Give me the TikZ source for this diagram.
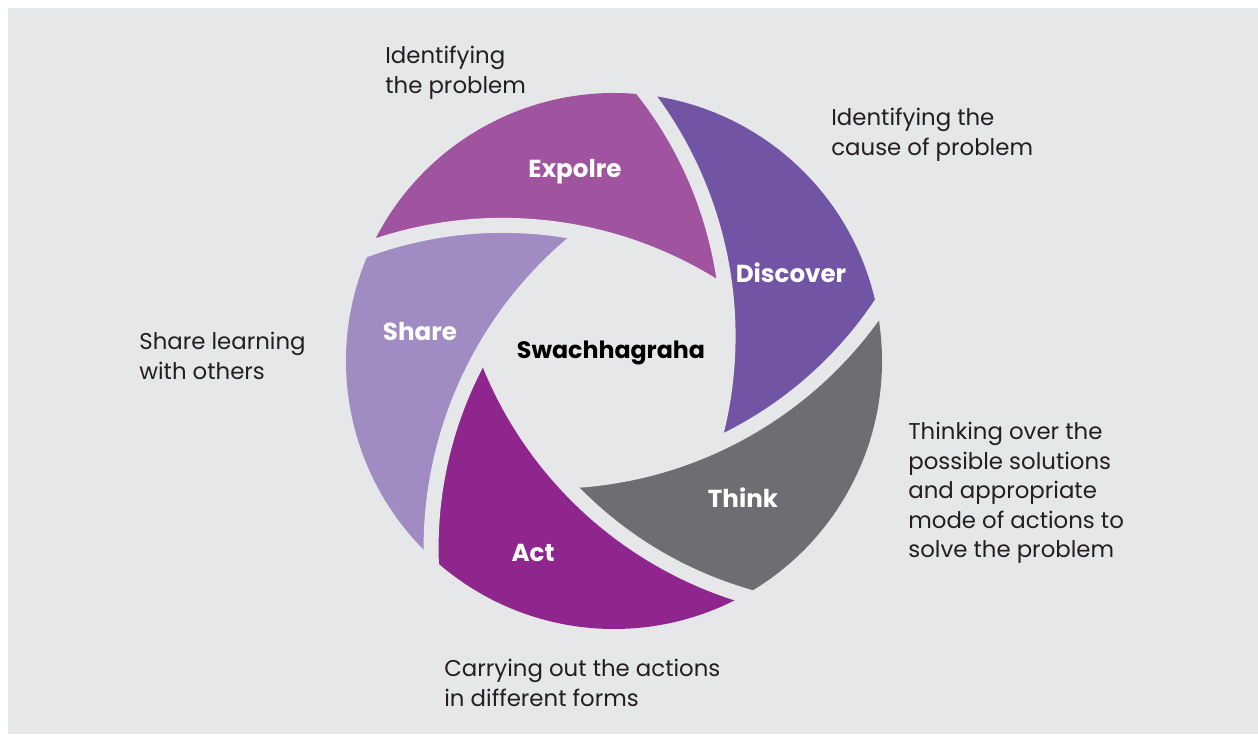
\documentclass[tikz,border=0pt]{standalone}
\usepackage{fontspec}
\setmainfont{Poppins}
\usepackage{tikz}
\usetikzlibrary{positioning}
\definecolor{pagebg}{RGB}{230,231,232}
\definecolor{explorecol}{RGB}{160,84,160}
\definecolor{discovercol}{RGB}{114,84,164}
\definecolor{thinkcol}{RGB}{109,110,114}
\definecolor{actcol}{RGB}{142,38,142}
\definecolor{sharecol}{RGB}{160,139,194}
\definecolor{notecolor}{RGB}{35,31,32}
\tikzset{
  blade/.pic={
    \fill[#1] (0:5.36) arc[start angle=0, end angle=-72, radius=5.36]
      arc[start angle=-117.7, end angle=-148.9, radius=7.96]
      arc[start angle=-99.1, end angle=-45.7, radius=7.96] -- cycle;
  },
  slit/.pic={
    \draw[draw=pagebg, line width=0.30cm] (92:5.70) ++(-42:7.96)
      arc[start angle=-42, end angle=-99.1, radius=7.96];
  },
  bladelabel/.style={
    text=white, inner sep=0pt, anchor=base,
    font=\fontsize{14}{16}\selectfont\bfseries
  },
  hublabel/.style={
    text=black, inner sep=0pt, anchor=base,
    font=\fontsize{13.5}{17}\selectfont\bfseries
  },
  notebox/.style={
    text=notecolor, inner sep=0pt, anchor=north west, align=left,
    font=\fontsize{13}{16.8}\selectfont
  }
}

\begin{document}
\begin{tikzpicture}

    % page and panel
    \useasboundingbox (0,0) rectangle (25.16,14.68);
    \fill[pagebg] (0.16,0) rectangle (25.16,14.52);
    \coordinate (hub) at (12.28,7.46);

    % the five blades
    \pic[rotate=155] at (hub) {blade=explorecol};
    \pic[rotate=83] at (hub) {blade=discovercol};
    \pic[rotate=11] at (hub) {blade=thinkcol};
    \pic[rotate=-61] at (hub) {blade=actcol};
    \pic[rotate=-133] at (hub) {blade=sharecol};

    % gaps between blades
    \pic[rotate=155] at (hub) {slit};
    \pic[rotate=83] at (hub) {slit};
    \pic[rotate=11] at (hub) {slit};
    \pic[rotate=-61] at (hub) {slit};
    \pic[rotate=-133] at (hub) {slit};

    % blade labels
    \node[hublabel] (center) at (12.22,7.52) {Swachhagraha};
    \node[bladelabel] (explore) at (11.50,11.14) {Expolre};
    \node[bladelabel] (discover) at (15.82,9.04) {Discover};
    \node[bladelabel] (think) at (14.86,4.54) {Think};
    \node[bladelabel] (act) at (10.66,3.46) {Act};
    \node[bladelabel] (share) at (8.40,7.88) {Share};

    % notes round the cycle
    \node[notebox] (exploreNote) at (7.70,13.76) {Identifying\\the problem};
    \node[notebox] (discoverNote) at (16.62,12.52) {Identifying the\\cause of problem};
    \node[notebox] (thinkNote) at (18.16,6.24) {Thinking over the\\possible solutions\\and appropriate\\mode of actions to\\solve the problem};
    \node[notebox] (actNote) at (8.88,1.50) {Carrying out the actions\\in different forms};
    \node[notebox] (shareNote) at (2.78,8.04) {Share learning\\with others};

\end{tikzpicture}
\end{document}
